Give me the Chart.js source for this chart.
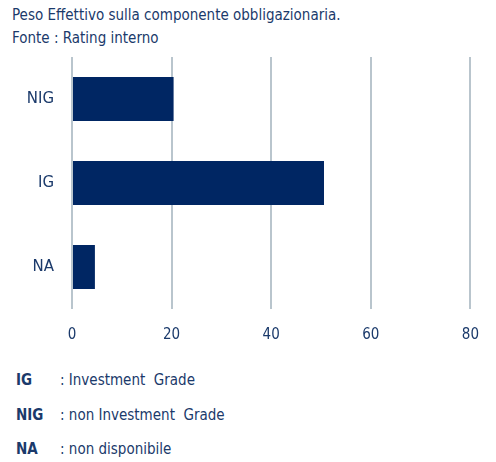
<!DOCTYPE html>
<html>
<head>
<meta charset="utf-8">
<script src="https://cdn.jsdelivr.net/npm/chart.js@4"></script>
<style>
  body { margin: 0; background: #fff; width: 496px; height: 462px; overflow: hidden;
         font-family: "DejaVu Sans Condensed", "DejaVu Sans", sans-serif; color: #1b3a6b; }
  #title { position: absolute; left: 12px; top: 4px; font-size: 15px; line-height: 23px; }
  #wrap { position: absolute; left: 0; top: 38px; width: 496px; height: 312px; }
  .note { position: absolute; left: 16px; font-size: 15px; }
  .note b { display: inline-block; width: 44px; }
</style>
</head>
<body>
<div id="title">Peso Effettivo sulla componente obbligazionaria.<br>Fonte : Rating interno</div>
<div id="wrap"><canvas id="plots"></canvas></div>
<div class="note" style="top:371px"><b>IG</b>: Investment&nbsp; Grade</div>
<div class="note" style="top:406px"><b>NIG</b>: non Investment&nbsp; Grade</div>
<div class="note" style="top:440px"><b>NA</b>: non disponibile</div>
<script>
// categories and weights
var categories = ["NIG", "IG", "NA"];
var weights = [20.4, 50.6, 4.6];
var tickLabels = [0, 20, 40, 60, 80];

var textColor = "#1b3a6b";
var ctx = document.getElementById("plots").getContext("2d");
var myChart = new Chart(ctx, {
  type: "bar",
  data: {
    labels: categories,
    datasets: [{
      label: "Peso Effettivo",
      data: weights,
      backgroundColor: "#002663",
      barPercentage: 0.524,
      categoryPercentage: 1
    }]
  },
  options: {
    indexAxis: "y",
    responsive: true,
    maintainAspectRatio: false,
    animation: false,
    layout: { padding: { top: 0, right: 24, left: 0, bottom: 0 } },
    plugins: { legend: { display: false }, tooltip: { enabled: false } },
    scales: {
      x: {
        min: tickLabels[0],
        max: tickLabels[tickLabels.length - 1],
        afterBuildTicks: function (scale) {
          scale.ticks = tickLabels.map(function (v) { return { value: v }; });
        },
        afterFit: function (scale) { scale.height = 41; },
        grid: { color: "#b9c5cd", lineWidth: 2, drawTicks: false },
        border: { display: false },
        ticks: { color: textColor, padding: 17, font: { family: "DejaVu Sans Condensed", size: 15 } }
      },
      y: {
        afterFit: function (scale) { scale.width = 72; },
        grid: { display: false },
        border: { display: false },
        ticks: { color: textColor, padding: 10, font: { family: "DejaVu Sans", size: 15 } }
      }
    }
  }
});
</script>
</body>
</html>
